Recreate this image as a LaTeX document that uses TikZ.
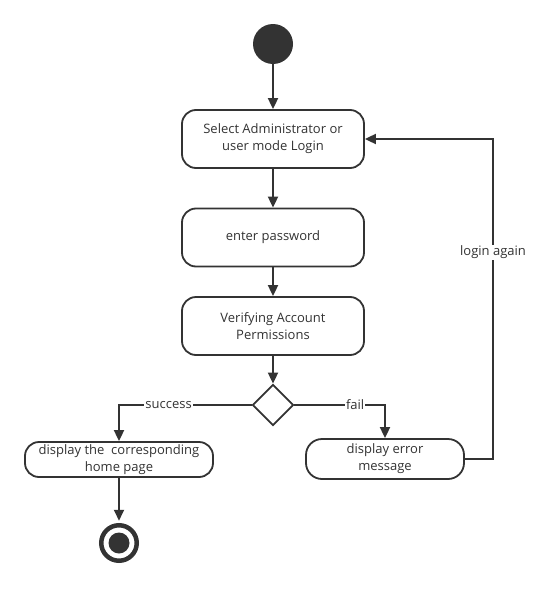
\documentclass[tikz,border=0pt]{standalone}
\usepackage{fontspec}
\setmainfont{Open Sans}
\usetikzlibrary{arrows.meta,shapes.geometric}
\definecolor{lc}{HTML}{333333}
\definecolor{tc}{HTML}{333333}
\begin{document}
\begin{tikzpicture}[x=1pt,y=-1pt,
  txt/.style={text=tc,font=\fontsize{13}{17}\selectfont},
  act/.style={txt,draw=lc,line width=1.8pt,rounded corners=14pt,fill=white,
    minimum width=182pt,minimum height=58pt,align=center,inner sep=0pt},
  flow/.style={draw=lc,line width=1.8pt,-{Triangle[length=11pt,width=10pt]}},
  lbl/.style={txt,fill=white,inner sep=1pt}]
\useasboundingbox[fill=white] (0,0) rectangle (543,589);
\node[circle,fill=lc,minimum size=40pt,inner sep=0pt] (start) at (273,44) {};
\node[act] (sel) at (273,139) {Select Administrator or\\user mode Login};
\node[act] (pwd) at (273,237.5) {enter password};
\node[act] (ver) at (273,326) {Verifying Account\\Permissions};
\node[diamond,draw=lc,line width=1.8pt,fill=white,minimum width=41pt,minimum height=41pt,inner sep=0pt] (dec) at (273,405) {};
\node[act,minimum width=188pt,minimum height=35pt] (home) at (119,459.5) {display the\ \ corresponding\\home page};
\node[act,minimum width=158pt,minimum height=40pt,rounded corners=16pt] (err) at (385,459) {display error\\message};
\node[circle,draw=lc,line width=4.5pt,minimum size=35.5pt,inner sep=0pt] (end) at (119,543) {};
\node[circle,fill=lc,minimum size=21pt,inner sep=0pt] (endin) at (end) {};
\coordinate (loop) at (493,252);
\draw[flow] (start) -- (sel);
\draw[flow] (sel) -- (pwd);
\draw[flow] (pwd) -- (ver);
\draw[flow] (ver) -- (dec);
\draw[flow] (dec.west) -| node[lbl,pos=0.313] (ls) {success} (home.north);
\draw[flow] (dec.east) -| node[lbl,pos=0.335] (lf) {fail} (err.north);
\draw[flow,shorten >=2.25pt] (home) -- (end);
\draw[flow] (err.east) -| (loop) |- (sel.east);
\node[lbl] (la) at (loop) {login again};
\end{tikzpicture}
\end{document}
